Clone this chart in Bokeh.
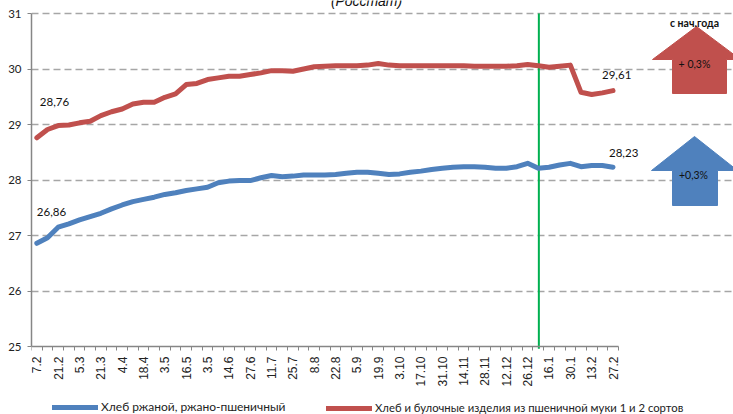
from bokeh.plotting import figure
from bokeh.models import Range1d, FixedTicker, Label, Legend, LegendItem
from bokeh.embed import file_html
from bokeh.resources import INLINE

# ---- data ----
tick_labels = ["7.2", "21.2", "5.3", "21.3", "4.4", "18.4", "3.5", "16.5", "3.5",
               "14.6", "27.6", "11.7", "25.7", "8.8", "22.8", "5.9", "19.9", "3.10",
               "17.10", "31.10", "14.11", "28.11", "12.12", "26.12", "16.1", "30.1",
               "13.2", "27.2"]

rye_bread = [26.86, 26.96, 27.15, 27.21, 27.28, 27.34, 27.40, 27.48, 27.55, 27.61,
             27.65, 27.69, 27.74, 27.77, 27.81, 27.84, 27.87, 27.95, 27.98, 27.99,
             27.99, 28.04, 28.08, 28.06, 28.07, 28.09, 28.09, 28.09, 28.10, 28.12,
             28.14, 28.14, 28.12, 28.10, 28.11, 28.14, 28.16, 28.19, 28.21, 28.23,
             28.24, 28.24, 28.23, 28.21, 28.21, 28.24, 28.30, 28.21, 28.23, 28.27,
             28.30, 28.24, 28.26, 28.26, 28.23]

wheat_bread = [28.76, 28.91, 28.98, 28.99, 29.03, 29.06, 29.16, 29.23, 29.28, 29.37,
               29.40, 29.40, 29.49, 29.55, 29.72, 29.74, 29.81, 29.84, 29.87, 29.87,
               29.90, 29.93, 29.97, 29.97, 29.96, 30.00, 30.04, 30.05, 30.06, 30.06,
               30.06, 30.07, 30.10, 30.07, 30.06, 30.06, 30.06, 30.06, 30.06, 30.06,
               30.06, 30.05, 30.05, 30.05, 30.05, 30.06, 30.08, 30.06, 30.03, 30.05,
               30.07, 29.58, 29.54, 29.57, 29.61]

series_names = ["Хлеб ржаной, ржано-пшеничный",
                "Хлеб и булочные изделия из пшеничной муки 1 и 2 сортов"]
ytd_change = ["+ 0,3%", "+0,3%"]
year_break_index = 47

n = len(rye_bread)
xs = list(range(n))

BLUE = "#4F81BD"
RED = "#C0504D"
GRAY = "#A6A6A6"
AXIS = "#868686"
FONT = "Lato"

W, H = 733, 414
LEFT = 31
PX_PER_CAT = 10.67
PX_PER_UNIT = 55.5
TOP_PX = 13  # pixel row of y = 31

x_lo = -0.5
x_hi = x_lo + (W - LEFT) / PX_PER_CAT
y_hi = 31 + TOP_PX / PX_PER_UNIT
y_lo = y_hi - H / PX_PER_UNIT

p = figure(width=W, height=H, output_backend="svg", toolbar_location=None,
           x_range=Range1d(x_lo, x_hi), y_range=Range1d(y_lo, y_hi),
           min_border_left=LEFT, min_border_right=0, min_border_top=0, min_border_bottom=0)
p.outline_line_color = None
p.background_fill_color = "white"
p.border_fill_color = "white"

# grid
p.xgrid.visible = False
p.ygrid.grid_line_color = GRAY
p.ygrid.grid_line_dash = "7 4"
p.ygrid.grid_line_width = 1.6
p.ygrid.bounds = (-0.5, n - 0.5)
p.ygrid.ticker = FixedTicker(ticks=[26, 27, 28, 29, 30, 31])

# y axis
p.yaxis.ticker = FixedTicker(ticks=[25, 26, 27, 28, 29, 30, 31])
p.yaxis.bounds = (25, 31)
p.yaxis.axis_line_color = AXIS
p.yaxis.axis_line_width = 1.5
p.yaxis.major_tick_line_color = AXIS
p.yaxis.major_tick_out = 4
p.yaxis.major_tick_in = 0
p.yaxis.minor_tick_line_color = None
p.yaxis.major_label_text_font = FONT
p.yaxis.major_label_text_font_size = "11.5px"
p.yaxis.major_label_text_color = "#222222"
p.yaxis.major_label_standoff = 6

# x axis, drawn at y = 25 inside the frame
p.xaxis.fixed_location = 25
p.xaxis.ticker = FixedTicker(ticks=list(range(0, n, 2)),
                             minor_ticks=[i - 0.5 for i in range(n + 1)])
p.xaxis.major_label_overrides = {i: lab for i, lab in zip(range(0, n, 2), tick_labels)}
p.xaxis.bounds = (-0.5, n - 0.5)
p.xaxis.axis_line_color = AXIS
p.xaxis.axis_line_width = 1.5
p.xaxis.major_tick_line_color = None
p.xaxis.major_tick_out = 0
p.xaxis.minor_tick_line_color = AXIS
p.xaxis.minor_tick_out = 4
p.xaxis.minor_tick_in = 0
p.xaxis.major_label_orientation = 3.14159265 / 2
p.xaxis.major_label_text_font = "Liberation Sans Narrow, Liberation Sans, sans-serif"
p.xaxis.major_label_text_font_size = "12px"
p.xaxis.major_label_text_color = "#222222"
p.xaxis.major_label_standoff = 6

# year break line
p.segment(x0=[year_break_index + 0.05], y0=[24.96], x1=[year_break_index + 0.05], y1=[31],
          line_color="#00B050", line_width=2)

# series
r_blue = p.line(xs, rye_bread, line_color=BLUE, line_width=5, line_join="round", line_cap="round")
r_red = p.line(xs, wheat_bread, line_color=RED, line_width=5, line_join="round", line_cap="round")

# data labels
def fmt(v):
    return f"{v:.2f}".replace(".", ",")

for x, y, xo, yo in [(0, wheat_bread[0], 3, 36), (0, rye_bread[0], 0, 31),
                     (n - 1, wheat_bread[-1], -11, 16), (n - 1, rye_bread[-1], -4, 14)]:
    p.add_layout(Label(x=x, y=y, x_offset=xo, y_offset=yo, text=fmt(y),
                       text_font=FONT, text_font_size="11.5px", text_color="#111111",
                       text_baseline="middle", text_align="left"))

# decoration geometry: page pixels -> data units
def dx(px):
    return x_lo + (px - LEFT) / PX_PER_CAT

def dy(py):
    return 31 - (py - TOP_PX) / PX_PER_UNIT

# title remnant (cut off at top in the original)
p.add_layout(Label(x=dx(366), y=dy(8), text="(Росстат)", text_font="Liberation Sans",
                   text_font_style="italic", text_font_size="14px", text_color="#111111",
                   text_align="center", text_baseline="bottom"))

def arrow(cx, top, head_y, bottom, half_head, shaft_l, shaft_r):
    X = [dx(cx), dx(cx + half_head), dx(shaft_r), dx(shaft_r),
         dx(shaft_l), dx(shaft_l), dx(cx - half_head)]
    Y = [dy(top), dy(head_y), dy(head_y), dy(bottom),
         dy(bottom), dy(head_y), dy(head_y)]
    return X, Y

rx, ry = arrow(696, 26, 59, 93, 44, 672, 726)
bx, by = arrow(694, 136, 170, 205, 43, 672, 717)
p.patch(rx, ry, fill_color=RED, line_color=RED, line_width=1)
p.patch(bx, by, fill_color=BLUE, line_color=BLUE, line_width=1)

p.add_layout(Label(x=dx(694), y=dy(22), text="с нач.года", text_font=FONT,
                   text_font_style="bold", text_font_size="10.5px", text_color="#111111",
                   text_align="center", text_baseline="middle"))
p.add_layout(Label(x=dx(694), y=dy(63), text=ytd_change[0], text_font=FONT,
                   text_font_size="10.5px", text_color="#111111",
                   text_align="center", text_baseline="middle"))
p.add_layout(Label(x=dx(693), y=dy(174), text=ytd_change[1], text_font=FONT,
                   text_font_size="10.5px", text_color="#111111",
                   text_align="center", text_baseline="middle"))

# legends (inside the frame, below the axis labels)
for r, name, loc, fs in [(r_blue, series_names[0], (21, 0), "12px"),
                         (r_red, series_names[1], (295, 0), "11.3px")]:
    lg = Legend(items=[LegendItem(label=name, renderers=[r])], location=loc,
                orientation="horizontal", border_line_alpha=0, background_fill_alpha=0,
                glyph_width=46, glyph_height=10, label_standoff=3, padding=0, margin=0,
                spacing=0, label_text_font=FONT, label_text_font_size=fs,
                label_text_color="#222222", label_height=10)
    p.add_layout(lg)

open("out.html", "w").write(file_html(p, INLINE))
